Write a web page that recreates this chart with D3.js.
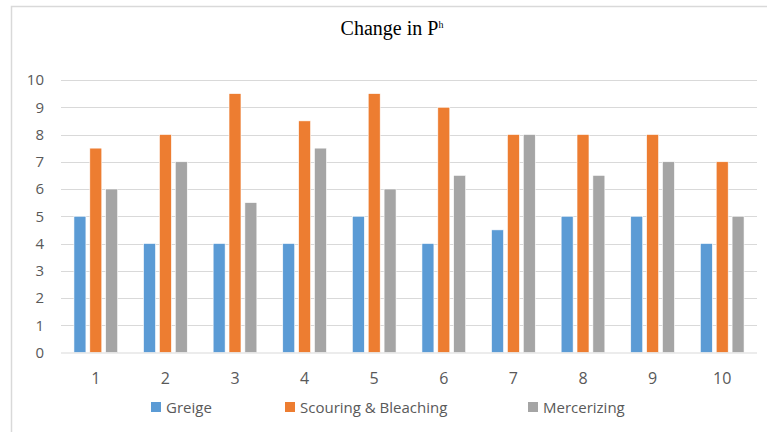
<!DOCTYPE html>
<html>
<head>
<meta charset="utf-8">
<script src="https://cdn.jsdelivr.net/npm/d3@7"></script>
<style>
  html, body { margin: 0; padding: 0; background: #fff; }
  svg { display: block; }
</style>
</head>
<body>
<svg id="chart" width="767" height="432"></svg>
<script>
// Sample numbers along the x axis
const categories = ["1", "2", "3", "4", "5", "6", "7", "8", "9", "10"];
const seriesNames = ["Greige", "Scouring & Bleaching", "Mercerizing"];
const greige = [5, 4, 4, 4, 5, 4, 4.5, 5, 5, 4];
const scouringBleaching = [7.5, 8, 9.5, 8.5, 9.5, 9, 8, 8, 8, 7];
const mercerizing = [6, 7, 5.5, 7.5, 6, 6.5, 8, 6.5, 7, 5];
const yTicks = [0, 1, 2, 3, 4, 5, 6, 7, 8, 9, 10];
const colors = ["#5b9bd5", "#ed7d31", "#a5a5a5"];

const series = [greige, scouringBleaching, mercerizing];

const svg = d3.select("#chart");
const W = 767, H = 432;
const sans = "'Open Sans', 'Liberation Sans', sans-serif";

// Outer chart frame
svg.append("rect")
  .attr("x", 11.5).attr("y", 6.5)
  .attr("width", W).attr("height", H)
  .attr("fill", "none")
  .attr("stroke", "#d9d9d9")
  .attr("stroke-width", 1.5);

const plot = { left: 61, right: 757, top: 80, bottom: 352.5 };

const x = d3.scaleBand().domain(categories).range([plot.left, plot.right]).padding(0);
const y = d3.scaleLinear().domain([0, 10]).range([plot.bottom, plot.top]);

// Horizontal gridlines
svg.append("g")
  .selectAll("line")
  .data(yTicks.filter(d => d > 0))
  .join("line")
  .attr("x1", plot.left).attr("x2", plot.right)
  .attr("y1", d => Math.round(y(d)) + 0.5)
  .attr("y2", d => Math.round(y(d)) + 0.5)
  .attr("stroke", "#d9d9d9")
  .attr("stroke-width", 1);

// Y axis labels
const yAxis = d3.axisLeft(y).tickValues(yTicks).tickSize(0).tickPadding(0).tickFormat(d3.format("d"));
const gy = svg.append("g").attr("transform", "translate(44,0)").call(yAxis);
gy.select(".domain").remove();
gy.selectAll("text")
  .attr("font-family", sans)
  .attr("font-size", 15)
  .attr("fill", "#595959");

// Bars
const bw = x.bandwidth() * 0.172;
const step = x.bandwidth() * 0.228;
series.forEach((vals, si) => {
  svg.append("g")
    .selectAll("rect")
    .data(vals)
    .join("rect")
    .attr("x", (d, i) => x(categories[i]) + x.bandwidth() / 2 + (si - 1) * step - bw / 2)
    .attr("y", d => y(d))
    .attr("width", bw)
    .attr("height", d => y(0) - y(d))
    .attr("fill", colors[si])
    .attr("stroke", "#fff")
    .attr("stroke-width", 0.6);
});

// X axis baseline and labels
const xAxis = d3.axisBottom(x).tickSize(0).tickPadding(0);
const gx = svg.append("g").attr("transform", `translate(0,${plot.bottom})`).call(xAxis);
gx.select(".domain")
  .attr("stroke", "#d9d9d9")
  .attr("stroke-width", 1)
  .attr("d", `M${plot.left},0.5H${plot.right}`);
gx.selectAll("text")
  .attr("dy", 0)
  .attr("y", 31)
  .attr("font-family", sans)
  .attr("font-size", 16)
  .attr("fill", "#595959");

// Title
const title = svg.append("text")
  .attr("x", 392).attr("y", 35)
  .attr("text-anchor", "middle")
  .attr("font-family", "'Liberation Serif', 'Times New Roman', serif")
  .attr("font-size", 20)
  .attr("fill", "#000");
title.append("tspan").text("Change in P");
title.append("tspan").attr("dy", -7).attr("font-size", 10).text("h");

// Legend
const legendX = [151, 285, 528];
const legend = svg.append("g");
seriesNames.forEach((name, i) => {
  legend.append("rect")
    .attr("x", legendX[i]).attr("y", 402)
    .attr("width", 10).attr("height", 10)
    .attr("fill", colors[i]);
  legend.append("text")
    .attr("x", legendX[i] + 15).attr("y", 413)
    .attr("font-family", sans)
    .attr("font-size", 15)
    .attr("fill", "#595959")
    .text(name);
});
</script>
</body>
</html>
